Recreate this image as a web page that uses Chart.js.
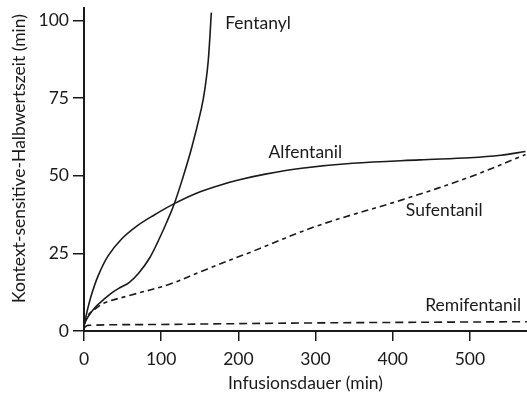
<!DOCTYPE html>
<html>
<head>
<meta charset="utf-8">
<script src="https://cdn.jsdelivr.net/npm/chart.js@4.4.1/dist/chart.umd.min.js"></script>
<style>
  html, body { margin: 0; padding: 0; background: #fff; }
  canvas { display: block; }
</style>
</head>
<body>
<canvas id="halbwert" width="527" height="399"></canvas>
<script>
// values: x = Infusionsdauer (min), y = Halbwertszeit (min)
var fentanylX = [0, 5, 14, 25, 36, 47, 58, 71, 85, 99, 108, 117, 127, 139, 152, 157, 161, 165];
var fentanylY = [2, 4.5, 7.5, 10, 12.3, 14, 15.5, 18.7, 23.5, 30.5, 35.5, 41, 48.5, 58.5, 71.5, 78.5, 87, 102.5];

var alfentanilX = [0, 4, 9.5, 18, 31, 49, 68, 90, 117, 145, 174, 200, 235, 282, 348, 435, 500, 540, 572];
var alfentanilY = [1.5, 6.3, 11.5, 17.6, 24.1, 29.7, 33.7, 37.2, 41, 44.3, 46.8, 48.6, 50.5, 52.4, 54, 55.1, 55.8, 56.6, 57.8];

var sufentanilX = [0, 5, 14, 27, 60, 110, 160, 217, 304, 413, 500, 572];
var sufentanilY = [2, 5, 7, 9.1, 11.5, 15, 20, 25.5, 34, 42.3, 49.6, 56.8];

var remifentanilX = [0, 5, 100, 300, 574];
var remifentanilY = [1, 1.8, 2.1, 2.6, 3.0];

var xTicks = [0, 100, 200, 300, 400, 500];
var yTicks = [0, 25, 50, 75, 100];

var curveNames = ['Fentanyl', 'Alfentanil', 'Sufentanil', 'Remifentanil'];
var yTitle = 'Kontext-sensitive-Halbwertszeit (min)';

function points(xs, ys) {
  return xs.map(function(x, i) { return {x: x, y: ys[i]} });
}

var allX = [fentanylX, alfentanilX, sufentanilX, remifentanilX];
var allY = [fentanylY, alfentanilY, sufentanilY, remifentanilY];
var curveDash = [[], [], [7, 4, 4, 4], [8, 5]];

// where the curve names sit (data units, text starts here)
var nameSpots = [[183, 99], [239, 57.5], [417, 38.9], [442, 8.4]];

var FONT = 'Lato';
var INK = '#1a1a1a';

// curve names next to the lines, plus the rotated y title (sits a bit above centre in the original)
var labelsPlugin = {
  id: 'curveNames',
  afterDraw: function(chart) {
    var ctx = chart.ctx;
    var sx = chart.scales.x, sy = chart.scales.y;
    ctx.save();
    ctx.font = '17.5px ' + FONT;
    ctx.fillStyle = INK;
    ctx.textAlign = 'left';
    ctx.textBaseline = 'middle';
    curveNames.forEach(function(name, i) {
      ctx.fillText(name, sx.getPixelForValue(nameSpots[i][0]), sy.getPixelForValue(nameSpots[i][1]));
    });
    ctx.translate(19, (chart.chartArea.top + chart.chartArea.bottom) / 2 - 11);
    ctx.rotate(-Math.PI / 2);
    ctx.textAlign = 'center';
    ctx.fillText(yTitle, 0, 0);
    ctx.restore();
  }
};

Chart.defaults.font.family = FONT;
Chart.defaults.font.size = 17.5;
Chart.defaults.color = INK;

var chart = new Chart('halbwert', {
  type: 'line',
  data: {
    datasets: curveNames.map(function(name, i) {
      return {
        label: name,
        data: points(allX[i], allY[i]),
        borderColor: INK,
        borderWidth: 1.6,
        borderDash: curveDash[i],
        pointRadius: 0,
        fill: false,
        tension: 0.35
      };
    })
  },
  options: {
    responsive: false,
    animation: false,
    devicePixelRatio: 1,
    layout: { padding: { left: 0, top: 0, right: 0, bottom: 0 } },
    plugins: { legend: { display: false }, tooltip: { enabled: false } },
    scales: {
      x: {
        type: 'linear',
        min: 0,
        max: 574,
        afterBuildTicks: function(scale) { scale.ticks = xTicks.map(function(v) { return {value: v} }) },
        afterFit: function(scale) { scale.height = 68 },
        border: { color: INK, width: 2 },
        grid: { drawOnChartArea: false, drawTicks: true, tickLength: 10, color: INK, lineWidth: 1.5 },
        ticks: { padding: 8, maxRotation: 0, color: INK },
        title: { display: true, text: 'Infusionsdauer (min)', color: INK, padding: { top: 0, bottom: 5 } }
      },
      y: {
        type: 'linear',
        min: 0,
        max: 104,
        afterBuildTicks: function(scale) { scale.ticks = yTicks.map(function(v) { return {value: v} }) },
        afterFit: function(scale) {
          scale.width = 84;
          scale.paddingTop = 8;
          scale.paddingBottom = 0;
        },
        border: { color: INK, width: 2 },
        grid: { drawOnChartArea: false, drawTicks: true, tickLength: 11, color: INK, lineWidth: 1.5 },
        ticks: { padding: 4, color: INK }
      }
    }
  },
  plugins: [labelsPlugin]
});
</script>
</body>
</html>
